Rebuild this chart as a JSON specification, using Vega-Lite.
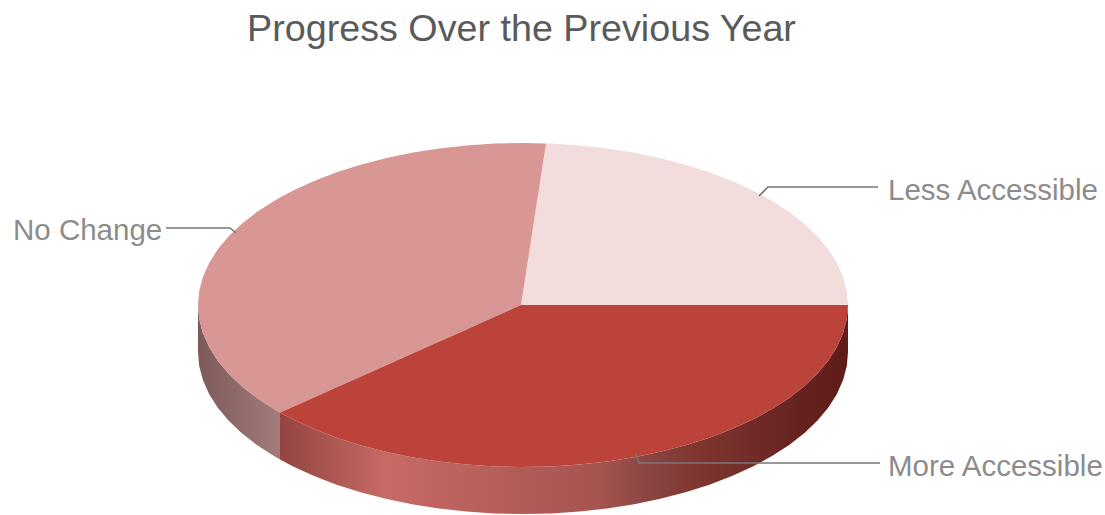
{
"$schema":"https://vega.github.io/schema/vega-lite/v6.json",
"width":1105,"height":465,"padding":{"top":50,"left":0,"right":0,"bottom":0},"autosize":{"type":"none"},
"background":"white",
"title":{"text":"Progress Over the Previous Year","font":"Liberation Sans","fontSize":37.7,"fontWeight":"normal","color":"#5a5a5a","anchor":"middle","dx":-31,"offset":1},
"view":{"stroke":null},
"datasets":{
"tops":[
{"slice":"Less Accessible","x":521,"y":305,"y2":305},{"slice":"Less Accessible","x":546,"y":143.4,"y2":305},{"slice":"Less Accessible","x":551.3,"y":143.6,"y2":305},{"slice":"Less Accessible","x":579.4,"y":145.5,"y2":305},{"slice":"Less Accessible","x":607.1,"y":148.5,"y2":305},{"slice":"Less Accessible","x":634.2,"y":152.8,"y2":305},{"slice":"Less Accessible","x":660.3,"y":158.2,"y2":305},{"slice":"Less Accessible","x":685.5,"y":164.7,"y2":305},{"slice":"Less Accessible","x":709.4,"y":172.3,"y2":305},{"slice":"Less Accessible","x":731.9,"y":180.9,"y2":305},{"slice":"Less Accessible","x":752.8,"y":190.4,"y2":305},{"slice":"Less Accessible","x":772,"y":200.9,"y2":305},{"slice":"Less Accessible","x":789.2,"y":212.1,"y2":305},{"slice":"Less Accessible","x":804.5,"y":224,"y2":305},{"slice":"Less Accessible","x":817.5,"y":236.5,"y2":305},{"slice":"Less Accessible","x":828.4,"y":249.6,"y2":305},{"slice":"Less Accessible","x":836.9,"y":263.1,"y2":305},{"slice":"Less Accessible","x":843.1,"y":276.9,"y2":305},{"slice":"Less Accessible","x":846.8,"y":290.9,"y2":305},{"slice":"Less Accessible","x":848,"y":305,"y2":305},
{"slice":"No Change","x":198,"y":305,"y2":305},{"slice":"No Change","x":199.2,"y":290.9,"y2":319.1},{"slice":"No Change","x":202.9,"y":276.9,"y2":333.1},{"slice":"No Change","x":209.1,"y":263.1,"y2":346.9},{"slice":"No Change","x":217.6,"y":249.6,"y2":360.4},{"slice":"No Change","x":228.5,"y":236.5,"y2":373.5},{"slice":"No Change","x":241.5,"y":224,"y2":386},{"slice":"No Change","x":256.8,"y":212.1,"y2":397.9},{"slice":"No Change","x":274,"y":200.9,"y2":409.1},{"slice":"No Change","x":280,"y":197.4,"y2":412.6},{"slice":"No Change","x":293.2,"y":190.4,"y2":406.7},{"slice":"No Change","x":314.1,"y":180.9,"y2":397.4},{"slice":"No Change","x":336.6,"y":172.3,"y2":387.3},{"slice":"No Change","x":360.5,"y":164.7,"y2":376.7},{"slice":"No Change","x":385.7,"y":158.2,"y2":365.4},{"slice":"No Change","x":411.8,"y":152.8,"y2":353.8},{"slice":"No Change","x":438.9,"y":148.5,"y2":341.7},{"slice":"No Change","x":466.6,"y":145.5,"y2":329.4},{"slice":"No Change","x":494.7,"y":143.6,"y2":316.8},{"slice":"No Change","x":521,"y":143,"y2":305},{"slice":"No Change","x":546,"y":143.4,"y2":143.4},
{"slice":"More Accessible","x":280,"y":412.6,"y2":412.6},{"slice":"More Accessible","x":293.2,"y":406.7,"y2":419.6},{"slice":"More Accessible","x":314.1,"y":397.4,"y2":429.1},{"slice":"More Accessible","x":336.6,"y":387.3,"y2":437.7},{"slice":"More Accessible","x":360.5,"y":376.7,"y2":445.3},{"slice":"More Accessible","x":385.7,"y":365.4,"y2":451.8},{"slice":"More Accessible","x":411.8,"y":353.8,"y2":457.2},{"slice":"More Accessible","x":438.9,"y":341.7,"y2":461.5},{"slice":"More Accessible","x":466.6,"y":329.4,"y2":464.5},{"slice":"More Accessible","x":494.7,"y":316.8,"y2":466.4},{"slice":"More Accessible","x":521,"y":305,"y2":467},{"slice":"More Accessible","x":551.3,"y":305,"y2":466.4},{"slice":"More Accessible","x":579.4,"y":305,"y2":464.5},{"slice":"More Accessible","x":607.1,"y":305,"y2":461.5},{"slice":"More Accessible","x":634.2,"y":305,"y2":457.2},{"slice":"More Accessible","x":660.3,"y":305,"y2":451.8},{"slice":"More Accessible","x":685.5,"y":305,"y2":445.3},{"slice":"More Accessible","x":709.4,"y":305,"y2":437.7},{"slice":"More Accessible","x":731.9,"y":305,"y2":429.1},{"slice":"More Accessible","x":752.8,"y":305,"y2":419.6},{"slice":"More Accessible","x":772,"y":305,"y2":409.1},{"slice":"More Accessible","x":789.2,"y":305,"y2":397.9},{"slice":"More Accessible","x":804.5,"y":305,"y2":386},{"slice":"More Accessible","x":817.5,"y":305,"y2":373.5},{"slice":"More Accessible","x":828.4,"y":305,"y2":360.4},{"slice":"More Accessible","x":836.9,"y":305,"y2":346.9},{"slice":"More Accessible","x":843.1,"y":305,"y2":333.1},{"slice":"More Accessible","x":846.8,"y":305,"y2":319.1},{"slice":"More Accessible","x":848,"y":305,"y2":305}
],
"wallNoChange":[
{"x":198,"y":305,"y2":352},{"x":199.2,"y":319.1,"y2":366.1},{"x":202.9,"y":333.1,"y2":380.1},{"x":209.1,"y":346.9,"y2":393.9},{"x":217.6,"y":360.4,"y2":407.4},{"x":228.5,"y":373.5,"y2":420.5},{"x":241.5,"y":386,"y2":433},{"x":256.8,"y":397.9,"y2":444.9},{"x":274,"y":409.1,"y2":456.1},{"x":280,"y":412.6,"y2":459.6}
],
"wallMore":[
{"x":280,"y":412.6,"y2":459.6},{"x":293.2,"y":419.6,"y2":466.6},{"x":314.1,"y":429.1,"y2":476.1},{"x":336.6,"y":437.7,"y2":484.7},{"x":360.5,"y":445.3,"y2":492.3},{"x":385.7,"y":451.8,"y2":498.8},{"x":411.8,"y":457.2,"y2":504.2},{"x":438.9,"y":461.5,"y2":508.5},{"x":466.6,"y":464.5,"y2":511.5},{"x":494.7,"y":466.4,"y2":513.4},{"x":523,"y":467,"y2":514},{"x":551.3,"y":466.4,"y2":513.4},{"x":579.4,"y":464.5,"y2":511.5},{"x":607.1,"y":461.5,"y2":508.5},{"x":634.2,"y":457.2,"y2":504.2},{"x":660.3,"y":451.8,"y2":498.8},{"x":685.5,"y":445.3,"y2":492.3},{"x":709.4,"y":437.7,"y2":484.7},{"x":731.9,"y":429.1,"y2":476.1},{"x":752.8,"y":419.6,"y2":466.6},{"x":772,"y":409.1,"y2":456.1},{"x":789.2,"y":397.9,"y2":444.9},{"x":804.5,"y":386,"y2":433},{"x":817.5,"y":373.5,"y2":420.5},{"x":828.4,"y":360.4,"y2":407.4},{"x":836.9,"y":346.9,"y2":393.9},{"x":843.1,"y":333.1,"y2":380.1},{"x":846.8,"y":319.1,"y2":366.1},{"x":848,"y":305,"y2":352}
],
"leaders":[
{"slice":"No Change","step":1,"x":166,"y":228},{"slice":"No Change","step":2,"x":230,"y":228},{"slice":"No Change","step":3,"x":236,"y":233},
{"slice":"Less Accessible","step":1,"x":878,"y":187},{"slice":"Less Accessible","step":2,"x":768,"y":187},{"slice":"Less Accessible","step":3,"x":759,"y":196},
{"slice":"More Accessible","step":1,"x":880,"y":463},{"slice":"More Accessible","step":2,"x":639,"y":463},{"slice":"More Accessible","step":3,"x":635,"y":453}
],
"labels":[
{"slice":"No Change","x":13,"y":240},{"slice":"Less Accessible","x":888,"y":200},{"slice":"More Accessible","x":888,"y":476}
]
},
"encoding":{
"x":{"field":"x","type":"quantitative","axis":null,"scale":{"domain":[0,1105],"nice":false,"zero":false}},
"y":{"field":"y","type":"quantitative","axis":null,"scale":{"domain":[515,50],"nice":false,"zero":false}}
},
"layer":[
{"data":{"name":"wallNoChange"},
"mark":{"type":"area","orient":"vertical","fill":{"gradient":"linear","x1":0,"y1":0,"x2":1,"y2":0,"stops":[{"offset":0,"color":"#7d5a5a"},{"offset":1,"color":"#a27c7a"}]}},
"encoding":{"y2":{"field":"y2"}}},
{"data":{"name":"wallMore"},
"mark":{"type":"area","orient":"vertical","fill":{"gradient":"linear","x1":0,"y1":0,"x2":1,"y2":0,"stops":[{"offset":0,"color":"#944441"},{"offset":0.185,"color":"#c66a66"},{"offset":0.563,"color":"#a65450"},{"offset":0.65,"color":"#8a4541"},{"offset":0.74,"color":"#7f3530"},{"offset":0.915,"color":"#652320"},{"offset":1,"color":"#5f1c18"}]}},
"encoding":{"y2":{"field":"y2"}}},
{"data":{"name":"tops"},
"mark":{"type":"area","orient":"vertical"},
"encoding":{"y2":{"field":"y2"},"color":{"field":"slice","type":"nominal","legend":null,"scale":{"domain":["Less Accessible","No Change","More Accessible"],"range":["#f2dcdc","#d89694","#bc433a"]}}}},
{"data":{"name":"leaders"},
"mark":{"type":"line","color":"#777777","strokeWidth":1.6},
"encoding":{"detail":{"field":"slice"},"order":{"field":"step","type":"ordinal"}}},
{"data":{"name":"labels"},
"mark":{"type":"text","align":"left","baseline":"alphabetic","font":"Liberation Sans","fontSize":29.5,"color":"#8c8c8c"},
"encoding":{"text":{"field":"slice"}}}
]
}
